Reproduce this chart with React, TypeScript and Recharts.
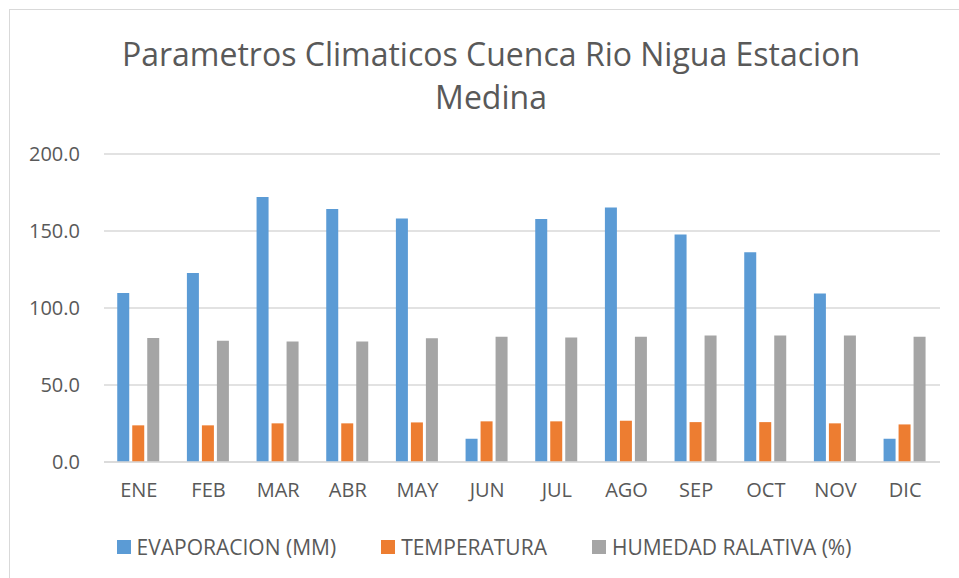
import { BarChart, Bar, XAxis, YAxis, CartesianGrid, Legend } from 'recharts';

const months = ['ENE', 'FEB', 'MAR', 'ABR', 'MAY', 'JUN', 'JUL', 'AGO', 'SEP', 'OCT', 'NOV', 'DIC'];
const evaporacion = [109.8, 122.8, 172.1, 164.3, 158.1, 15.1, 157.8, 165.2, 147.7, 136.2, 109.4, 15.1];
const temperatura = [23.8, 23.8, 25.1, 25.1, 25.7, 26.4, 26.4, 26.8, 25.9, 25.9, 25.1, 24.4];
const humedad = [80.6, 78.7, 78.3, 78.3, 80.4, 81.3, 80.9, 81.3, 82.2, 82.2, 82.2, 81.3];
const yTicks = [0, 50, 100, 150, 200];

const data = months.map((m, i) => ({
  mes: m,
  evap: evaporacion[i],
  temp: temperatura[i],
  hum: humedad[i],
}));

const seriesOrder = ['evap', 'temp', 'hum'];
const FONT = '"Open Sans", "Noto Sans", sans-serif';
const TEXT = '#595959';

const LegendContent = (props: any) => {
  const payload = [...(props.payload || [])].sort(
    (a: any, b: any) => seriesOrder.indexOf(a.dataKey) - seriesOrder.indexOf(b.dataKey)
  );
  return (
    <div style={{ display: 'flex', justifyContent: 'center', fontFamily: FONT, fontSize: 21, color: TEXT, lineHeight: '26px' }}>
      {payload.map((p: any, i: number) => (
        <div key={i} style={{ display: 'flex', alignItems: 'center', marginRight: i < payload.length - 1 ? 45 : 0 }}>
          <span style={{ width: 14, height: 14, background: p.color, display: 'inline-block', marginRight: 6 }} />
          <span>{p.value}</span>
        </div>
      ))}
    </div>
  );
};

export default function App() {
  return (
    <>
      <style>{`body{margin:0;overflow:hidden}`}</style>
      <div style={{ position: 'absolute', left: 9, top: 9, width: 950, height: 569, borderLeft: '1px solid #d9d9d9', borderTop: '1px solid #d9d9d9', boxSizing: 'border-box', background: '#fff' }}>
        <div style={{ position: 'absolute', left: 0, top: 22, width: 962, textAlign: 'center', fontFamily: FONT, fontSize: 32, color: TEXT, lineHeight: '43px' }}>
          Parametros Climaticos Cuenca Rio Nigua Estacion<br />Medina
        </div>
        <div style={{ position: 'absolute', left: -1, top: -1 }}>
          <BarChart
            width={950}
            height={569}
            data={data}
            margin={{ top: 145, right: 19, bottom: 0, left: 0 }}
            barCategoryGap="19%"
            barGap={3}
          >
            <CartesianGrid vertical={false} stroke="#d9d9d9" strokeWidth={1.5} />
            <XAxis
              dataKey="mes"
              axisLine={{ stroke: '#d9d9d9', strokeWidth: 1.5 }}
              tickLine={false}
              tick={{ fill: TEXT, fontSize: 20, fontFamily: FONT }}
              tickMargin={15}
              height={48}
            />
            <YAxis
              domain={[0, 200]}
              ticks={yTicks}
              width={95}
              axisLine={false}
              tickLine={false}
              tickMargin={18}
              tick={{ fill: TEXT, fontSize: 20, fontFamily: FONT }}
              tickFormatter={(v: number) => v.toFixed(1)}
            />
            <Legend
              verticalAlign="bottom"
              height={68}
              content={LegendContent}
              wrapperStyle={{ top: 525, bottom: 'auto', left: 0, width: 950 }}
            />
            <Bar dataKey="evap" name="EVAPORACION (MM)" fill="#5b9bd5" isAnimationActive={false} />
            <Bar dataKey="temp" name="TEMPERATURA" fill="#ed7d31" isAnimationActive={false} />
            <Bar dataKey="hum" name="HUMEDAD RALATIVA (%)" fill="#a5a5a5" isAnimationActive={false} />
          </BarChart>
        </div>
      </div>
    </>
  );
}
